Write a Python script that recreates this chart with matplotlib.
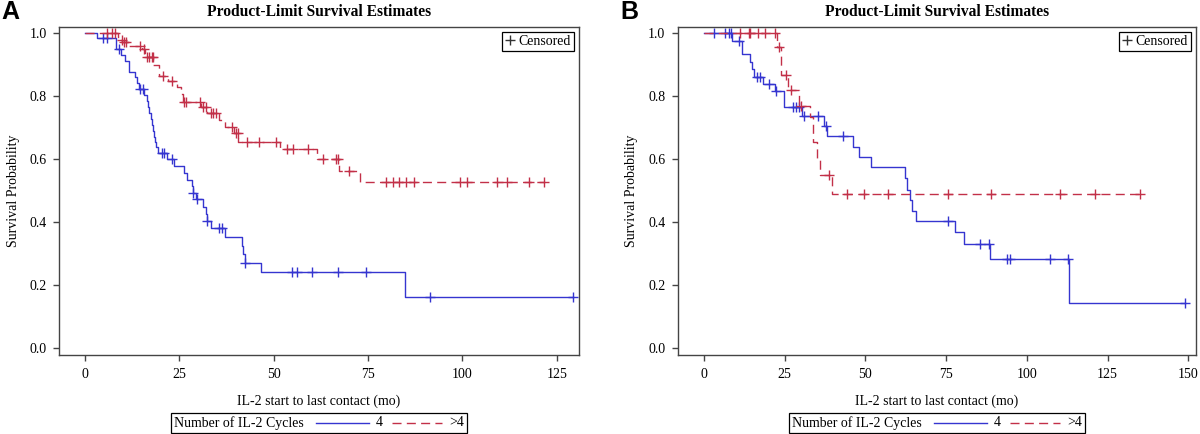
import numpy as np
import matplotlib
matplotlib.use("Agg")
import matplotlib.pyplot as plt
from matplotlib.lines import Line2D
from matplotlib.offsetbox import AnchoredOffsetbox, HPacker, TextArea, DrawingArea

plt.rcParams['font.family'] = ['Liberation Serif', 'DejaVu Serif']

BLUE = '#3535d0'
RED = '#c23048'

# ---- Panel A: event times (mo) and survival after each step
a4_times = [3.2, 8.2, 9.5, 10.6, 11.7, 13.3, 13.7, 14.2, 15.5, 16.3, 16.6, 17.0, 17.4,
            17.7, 18.0, 18.2, 18.5, 18.8, 19.2, 21.6, 23.5, 26.2, 26.9, 28.3, 28.6,
            29.4, 31.2, 32.0, 32.2, 33.3, 37.1, 41.5, 41.9, 42.3, 46.5, 84.8]
a4_surv = [0.984, 0.949, 0.931, 0.913, 0.878, 0.860, 0.841, 0.822, 0.804, 0.786, 0.767,
           0.748, 0.729, 0.709, 0.690, 0.670, 0.656, 0.638, 0.619, 0.600, 0.579, 0.557,
           0.536, 0.515, 0.494, 0.473, 0.450, 0.428, 0.405, 0.381, 0.352, 0.325, 0.298,
           0.270, 0.241, 0.162]
a4_cens = [4.7, 5.7, 9.1, 14.6, 15.3, 20.3, 21.0, 23.1, 28.7, 29.6, 32.3, 35.6, 36.2,
           42.5, 54.8, 56.1, 60.2, 66.9, 74.4, 91.4, 129.2]

a5_times = [8.8, 9.3, 9.9, 11.5, 15.2, 15.8, 16.2, 18.1, 19.5, 22.1, 24.3, 25.3, 25.9,
            30.8, 32.4, 35.6, 37.2, 39.5, 40.6, 51.7, 61.4, 67.4, 72.9]
a5_surv = [0.987, 0.980, 0.973, 0.960, 0.949, 0.937, 0.926, 0.899, 0.864, 0.848, 0.830,
           0.807, 0.783, 0.765, 0.746, 0.725, 0.703, 0.683, 0.656, 0.632, 0.600, 0.564,
           0.527]
a5_cens = [5.8, 7.2, 8.0, 9.7, 10.3, 10.9, 14.6, 15.5, 16.3, 17.0, 17.7, 17.9, 20.7,
           23.0, 26.2, 26.8, 30.5, 31.3, 32.0, 33.3, 34.0, 34.6, 38.9, 39.9, 40.4,
           42.8, 46.2, 50.6, 53.4, 55.2, 59.2, 63.0, 66.5, 67.0, 70.0, 79.8, 81.5,
           83.3, 85.1, 87.2, 99.4, 101.1, 109.3, 111.7, 117.7, 121.6]

# ---- Panel B
b4_times = [8.7, 11.8, 14.3, 14.8, 15.4, 18.2, 22.0, 24.7, 30.4, 37.2, 38.1, 46.1, 48.2,
            51.7, 62.2, 63.0, 63.7, 64.5, 65.6, 77.9, 80.7, 88.7, 113.0]
b4_surv = [0.977, 0.933, 0.910, 0.886, 0.860, 0.839, 0.816, 0.765, 0.737, 0.706, 0.674,
           0.640, 0.606, 0.575, 0.540, 0.503, 0.471, 0.437, 0.404, 0.368, 0.330, 0.283,
           0.143]
b4_cens = [3.3, 6.6, 7.9, 8.4, 10.9, 16.4, 17.4, 20.2, 22.3, 27.5, 28.6, 29.6, 31.0,
           35.5, 37.8, 43.2, 75.5, 85.4, 88.2, 93.9, 94.9, 107.1, 112.8, 148.9]

b5_times = [22.6, 23.9, 26.1, 29.6, 33.0, 33.9, 35.0, 36.1, 39.6]
b5_surv = [0.956, 0.868, 0.820, 0.769, 0.733, 0.656, 0.603, 0.550, 0.490]
b5_cens = [11.1, 13.9, 14.4, 16.8, 19.0, 22.2, 23.4, 25.5, 27.0, 30.2, 38.9, 44.4,
           49.5, 57.1, 75.6, 89.0, 110.2, 121.2, 135.2]

DASH = (0, (6.5, 3.8))


def km_curve(ax, times, surv, cens, color, ls):
    t = np.array([0.0] + times + [max(cens)])
    s = np.array([1.0] + surv + [surv[-1]])
    ax.step(t, s, where='post', color=color, lw=1.0, linestyle=ls)
    idx = np.searchsorted(t[:-1], cens, side='right') - 1
    ax.plot(cens, s[idx], linestyle='none', marker='+', ms=7, mew=1.0, color=color)


def style_axes(ax, xticks, xlim, letter):
    ax.set_xlim(*xlim)
    ax.set_ylim(-0.022, 1.021)
    ax.set_xticks(xticks)
    ax.set_yticks([0.0, 0.2, 0.4, 0.6, 0.8, 1.0])
    ax.set_yticklabels(['0.0', '0.2', '0.4', '0.6', '0.8', '1.0'])
    for sp in ax.spines.values():
        sp.set_color('#444444')
        sp.set_linewidth(1.0)
    ax.tick_params(direction='out', length=4, width=1, color='#444444',
                   labelsize=10, pad=5)
    ax.set_title('Product-Limit Survival Estimates', fontsize=11.2,
                 fontweight='bold', pad=8)
    ax.set_xlabel('IL-2 start to last contact (mo)', fontsize=10, labelpad=10)
    ax.set_ylabel('Survival Probability', fontsize=10, labelpad=7)
    cens_handle = Line2D([], [], linestyle='none', marker='+', color='#333333', ms=7)
    leg = ax.legend([cens_handle], ['Censored'], loc='upper right', fontsize=10,
                    fancybox=False, edgecolor='black', handlelength=0.6,
                    handletextpad=0.3, borderpad=0.25, borderaxespad=0.35,
                    framealpha=1)
    leg.get_frame().set_linewidth(0.9)
    ax.text(-0.11, 1.08, letter, transform=ax.transAxes, fontsize=18,
            fontweight='bold', family='Liberation Sans', va='top', ha='left')


def bottom_legend(ax):
    parts = [TextArea('Number of IL-2 Cycles', textprops=dict(fontsize=10))]
    d1 = DrawingArea(42, 8, 0, 0)
    d1.add_artist(Line2D([4, 42], [4, 4], color=BLUE, lw=1.0))
    parts.append(d1)
    parts.append(TextArea('4', textprops=dict(fontsize=10)))
    d2 = DrawingArea(38, 8, 0, 0)
    d2.add_artist(Line2D([2, 38], [4, 4], color=RED, lw=1.0, linestyle=DASH))
    parts.append(d2)
    parts.append(TextArea('>4', textprops=dict(fontsize=10)))
    box = HPacker(children=parts, align='center', pad=0, sep=5)
    anc = AnchoredOffsetbox(loc='center', child=box, pad=0.22, frameon=True,
                            bbox_to_anchor=(0.5, -0.205), bbox_transform=ax.transAxes,
                            borderpad=0)
    anc.patch.set_edgecolor('black')
    anc.patch.set_linewidth(0.9)
    anc.patch.set_boxstyle('square', pad=0)
    ax.add_artist(anc)


fig = plt.figure(figsize=(12, 4.34), dpi=100)
axA = fig.add_axes([0.0492, 0.1813, 0.4333, 0.7572])
axB = fig.add_axes([0.5648, 0.1813, 0.4319, 0.7572])

km_curve(axA, a4_times, a4_surv, a4_cens, BLUE, '-')
km_curve(axA, a5_times, a5_surv, a5_cens, RED, DASH)
style_axes(axA, [0, 25, 50, 75, 100, 125], (-6.9, 130.9), 'A')
bottom_legend(axA)

km_curve(axB, b4_times, b4_surv, b4_cens, BLUE, '-')
km_curve(axB, b5_times, b5_surv, b5_cens, RED, DASH)
style_axes(axB, [0, 25, 50, 75, 100, 125, 150], (-8.05, 152.4), 'B')
bottom_legend(axB)

fig.savefig('out.png', dpi=100)
